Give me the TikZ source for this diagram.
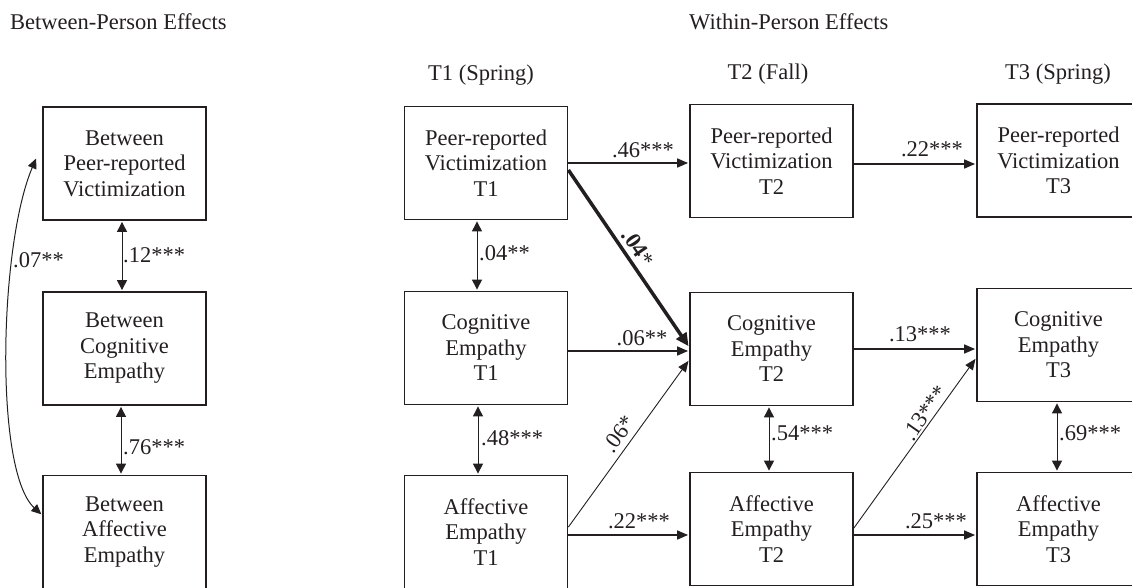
\documentclass[tikz,border=0pt]{standalone}
\usepackage{fontspec}
\setmainfont{Liberation Serif}
\usetikzlibrary{arrows.meta}
\definecolor{ink}{RGB}{35,31,32}
\begin{document}
\begin{tikzpicture}[x=1pt,y=-1pt,
  font=\fontsize{22.5}{25.5}\selectfont, color=ink,
  box/.style={draw=ink, line width=1.8pt, minimum width=163pt, minimum height=113pt, inner sep=0pt, align=center},
  lab/.style={inner sep=0pt},
  harrow/.style={line width=1.6pt, -{Triangle[length=11pt,width=9pt]}, shorten >=1pt},
  darrow/.style={line width=1pt, {Triangle[length=10pt,width=10pt]}-{Triangle[length=10pt,width=10pt]}, shorten >=1pt, shorten <=1pt},
  diarrow/.style={line width=0.9pt, -{Triangle[length=11pt,width=9pt]}, shorten >=1pt},
  boldarrow/.style={line width=3.5pt, -{Triangle[length=13pt,width=12pt]}, shorten >=1pt}
]
\useasboundingbox (0,0) rectangle (1132,587);
\clip (0,0) rectangle (1132,587);

% titles
\node[lab, anchor=west] (t1) at (10,22) {Between-Person Effects};
\node[lab, anchor=west] (t2) at (689,22) {Within-Person Effects};
\node[lab] (h1) at (481,75) {T1 (Spring)};
\node[lab] (h2) at (768,74) {T2 (Fall)};
\node[lab] (h3) at (1058,74) {T3 (Spring)};

% between
\node[box] (B1) at (124.5,163.5) {Between\\Peer-reported\\Victimization};
\node[box] (B2) at (124.5,348.5) {Between\\Cognitive\\Empathy};
\node[box] (B3) at (124.5,532) {Between\\Affective\\Empathy};

% within
\node[box] (P1) at (486,163) {Peer-reported\\Victimization\\T1};
\node[box] (C1) at (486,348) {Cognitive\\Empathy\\T1};
\node[box] (A1) at (486,532) {Affective\\Empathy\\T1};
\node[box] (P2) at (771.5,161) {Peer-reported\\Victimization\\T2};
\node[box] (C2) at (771.5,349) {Cognitive\\Empathy\\T2};
\node[box] (A2) at (771.5,529) {Affective\\Empathy\\T2};
\node[box] (P3) at (1058.5,160.5) {Peer-reported\\Victimization\\T3};
\node[box] (C3) at (1058.5,345) {Cognitive\\Empathy\\T3};
\node[box] (A3) at (1058.5,529) {Affective\\Empathy\\T3};

% between-person double arrows
\draw[darrow] ([xshift=-2.5pt]B1.south) -- ([xshift=-2.5pt]B2.north);
\node[lab, anchor=west] (l12) at (123,255) {.12***};
\draw[darrow] ([xshift=-3.5pt]B2.south) -- ([xshift=-3.5pt]B3.north);
\node[lab, anchor=west] (l76) at (123,447) {.76***};
\draw[line width=1pt, {Triangle[length=10pt,width=9pt]}-{Triangle[length=10pt,width=9pt]}, shorten >=1pt]
  ([xshift=-6pt,yshift=5pt]B1.west) .. controls +(-37,87) and +(-48,-44) .. ([yshift=17pt]B3.west);
\node[lab, anchor=west] (l07) at (13,260) {.07**};

% within-person double arrows
\draw[darrow] ([xshift=-9pt]P1.south) -- ([xshift=-9pt]C1.north);
\node[lab, anchor=west] (l04) at (479,253) {.04**};
\draw[darrow] ([xshift=-8pt]C1.south) -- ([xshift=-8pt]A1.north);
\node[lab, anchor=west] (l48) at (481,438) {.48***};
\draw[darrow] ([xshift=-2.5pt]C2.south) -- ([xshift=-2.5pt]A2.north);
\node[lab, anchor=west] (l54) at (771,433) {.54***};
\draw[darrow] ([xshift=-1.5pt]C3.south) -- ([xshift=-1.5pt]A3.north);
\node[lab, anchor=west] (l69) at (1059,433) {.69***};

% horizontal paths
\draw[harrow] (P1.east) -- (P1.east -| P2.west);
\node[lab] (l46) at (643,150) {.46***};
\draw[harrow] ([yshift=-3pt]P2.east) -- ([yshift=-3pt]P2.east -| P3.west);
\node[lab] (l22a) at (932,149) {.22***};
\draw[harrow] ([yshift=-3pt]C1.east) -- ([yshift=-3pt]C1.east -| C2.west);
\node[lab] (l06) at (642,338) {.06**};
\draw[harrow] (C2.east) -- (C2.east -| C3.west);
\node[lab] (l13) at (920,334) {.13***};
\draw[harrow] ([yshift=-3pt]A1.east) -- ([yshift=-3pt]A1.east -| A2.west);
\node[lab] (l22b) at (639,521) {.22***};
\draw[harrow] ([yshift=-6pt]A2.east) -- ([yshift=-6pt]A2.east -| A3.west);
\node[lab] (l25) at (936,521) {.25***};

% diagonal paths
\draw[diarrow] ([yshift=5pt]A1.east) -- ([yshift=-11pt]C2.west);
\node[lab, rotate=54] (l06s) at (619,434) {.06*};
\draw[diarrow] ([yshift=1pt]A2.east) -- ([yshift=-13pt]C3.west);
\node[lab, rotate=55] (l13s) at (925,413) {.13***};
\draw[boldarrow] ([yshift=-7pt]P1.east) -- ([yshift=2pt]C2.west);
\node[lab, rotate=-55.6] (l04b) at (638,248) {\textbf{.04}*};
\end{tikzpicture}
\end{document}
